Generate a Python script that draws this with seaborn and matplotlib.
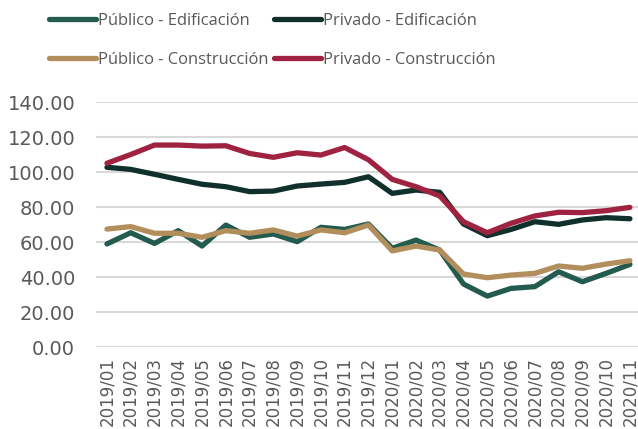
import numpy as np
import pandas as pd
import matplotlib
matplotlib.use('Agg')
import matplotlib.pyplot as plt
import seaborn as sns

# %%
# data
months = ['2019/01', '2019/02', '2019/03', '2019/04', '2019/05', '2019/06',
          '2019/07', '2019/08', '2019/09', '2019/10', '2019/11', '2019/12',
          '2020/01', '2020/02', '2020/03', '2020/04', '2020/05', '2020/06',
          '2020/07', '2020/08', '2020/09', '2020/10', '2020/11']

publico_edif = [58.9, 65.3, 59.2, 66.5, 57.7, 69.7, 62.7, 64.6, 60.2, 68.4, 67.2, 70.3,
                56.4, 61.1, 55.4, 36.0, 29.1, 33.5, 34.5, 43.0, 37.3, 42.1, 47.2]
privado_edif = [102.7, 101.5, 98.7, 95.8, 93.0, 91.6, 88.8, 89.1, 92.0, 93.1, 94.1, 97.3,
                87.8, 89.7, 88.4, 70.3, 63.6, 67.2, 71.6, 70.1, 72.6, 73.9, 73.3]
publico_const = [67.4, 68.8, 65.0, 65.0, 62.7, 66.5, 65.0, 66.9, 63.4, 66.9, 65.3, 69.7,
                 54.9, 57.7, 55.4, 41.7, 39.6, 41.1, 42.1, 46.3, 45.0, 47.4, 49.3]
privado_const = [105.0, 110.0, 115.4, 115.4, 114.8, 115.0, 110.6, 108.4, 111.0, 109.7, 114.0, 107.0,
                 95.8, 91.6, 86.3, 71.6, 65.3, 70.7, 74.9, 77.0, 76.8, 77.9, 79.8]

series_names = ['Público - Edificación', 'Privado - Edificación',
                'Público - Construcción', 'Privado - Construcción']

# %%
df = pd.DataFrame({'mes': months,
                   series_names[0]: publico_edif,
                   series_names[1]: privado_edif,
                   series_names[2]: publico_const,
                   series_names[3]: privado_const})
df['pos'] = np.arange(len(months))
df_long = df.melt(id_vars=['mes', 'pos'], var_name='serie', value_name='valor')

colors = {
    'Público - Edificación': '#235B4E',
    'Privado - Edificación': '#10312B',
    'Público - Construcción': '#B38E5D',
    'Privado - Construcción': '#9F2241',
}

sns.set_style('white')
plt.rcParams['font.family'] = ['DejaVu Sans']

fig = plt.figure(figsize=(6.38, 4.29), dpi=100)
ax = fig.add_axes([0.1505, 0.1911, 0.8495, 0.5711])

sns.lineplot(data=df_long, x='pos', y='valor', hue='serie', hue_order=series_names,
             palette=colors, linewidth=3.8, ax=ax, legend=False, sort=False)

ax.set_xlim(-0.46, 22.34)
ax.set_ylim(0, 140)
ax.set_yticks(np.arange(0, 141, 20))
ax.set_yticklabels([f'{v:.2f}' for v in np.arange(0, 141, 20)])
ax.set_xticks(df['pos'])
ax.set_xticklabels(months, rotation=90)
ax.set(xlabel='', ylabel='')
ax.grid(axis='y', color='#d9d9d9', linewidth=1.5)
ax.grid(axis='x', visible=False)
ax.set_axisbelow(True)
for s in ax.spines.values():
    s.set_visible(False)
ax.tick_params(axis='y', length=0, pad=15, labelsize=14, labelcolor='#595959')
ax.tick_params(axis='x', length=0, pad=7, labelsize=12, labelcolor='#595959')

# legend filled column-wise, so order the handles to read row by row
order = [0, 2, 1, 3]
handles = [plt.Line2D([], [], color=colors[series_names[i]], linewidth=3.8,
                      solid_capstyle='round') for i in order]
labels = [series_names[i] for i in order]
fig.legend(handles, labels, loc='upper center', bbox_to_anchor=(0.427, 1.005),
           ncol=2, frameon=False, handlelength=2.85, handletextpad=0.15,
           columnspacing=0.3, labelspacing=1.4, labelcolor='#595959',
           prop={'family': 'Open Sans', 'size': 11.9})

plt.savefig('out.png', dpi=100)
